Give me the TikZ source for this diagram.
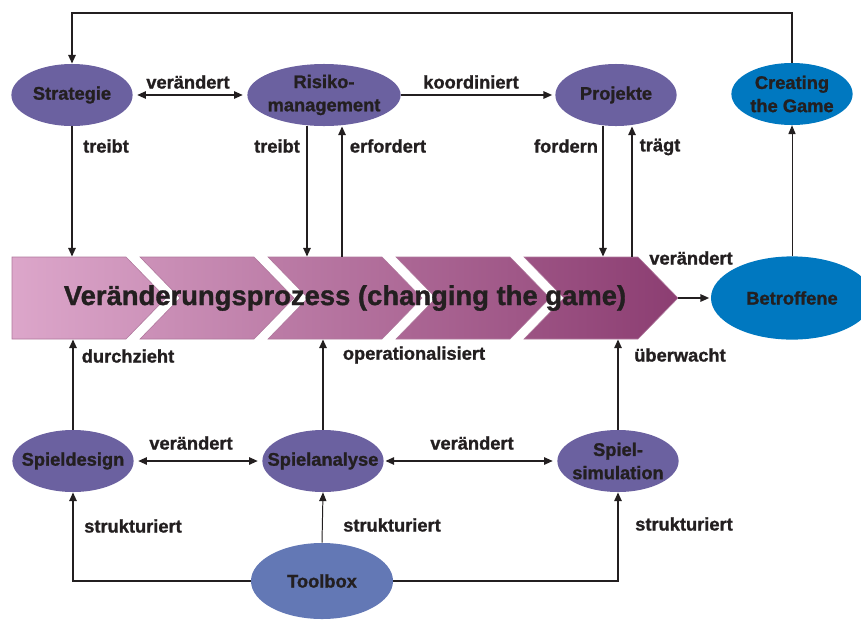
\documentclass[tikz,border=0pt]{standalone}
\usepackage{fontspec}
\setmainfont{Liberation Sans}[BoldFeatures={FakeBold=1.2}]
\usetikzlibrary{arrows.meta,shapes.geometric}

\definecolor{ovalviolet}{RGB}{107,97,160}
\definecolor{ovaltool}{RGB}{99,120,181}
\definecolor{ovalblue}{RGB}{0,120,192}
\definecolor{inkdark}{RGB}{35,31,32}
\definecolor{chevlight}{RGB}{220,166,202}
\definecolor{chevdark}{RGB}{140,62,114}

\tikzset{
  ovaltext/.style={align=center, font=\fontsize{13}{16.5}\selectfont\bfseries, text=inkdark, inner sep=0pt},
  oval/.style={ellipse, fill=ovalviolet, inner sep=0pt, minimum width=3.03cm, minimum height=1.55cm,
    label={[ovaltext]center:#1}},
  rel/.style={font=\fontsize{13}{15}\selectfont\bfseries, text=inkdark, inner sep=0pt},
  arr/.style={draw=inkdark, line width=1.4pt, -{Triangle[length=2.2mm,width=1.8mm]}},
  biarr/.style={arr, {Triangle[length=2.2mm,width=1.8mm]}-{Triangle[length=2.2mm,width=1.8mm]}},
  chev/.style={draw=chevdark!70!white, line width=0.4pt},
}

\begin{document}
\begin{tikzpicture}[x=0.025cm, y=-0.025cm]
			%%%%% START %%%%%
			\useasboundingbox (0,0) rectangle (861,619);
			
			% process band
			\shade[chev, left color=chevlight, right color=chevdark!20!chevlight]
			  (12,257) -- (126,257) -- (166,298) -- (126,339) -- (12,339) -- cycle;
			\foreach \k in {1,...,4} {
			  \pgfmathsetmacro\xl{12+128*\k}
			  \pgfmathtruncatemacro\pa{20*\k}
			  \pgfmathtruncatemacro\pb{20*\k+20}
			  \shade[chev, left color=chevdark!\pa!chevlight, right color=chevdark!\pb!chevlight]
			    (\xl,257) -- ({\xl+114},257) -- ({\xl+154},298) -- ({\xl+114},339)
			    -- (\xl,339) -- ({\xl+40},298) -- cycle;
			}
			\node[font=\fontsize{19.5}{22}\selectfont\bfseries, text=inkdark, inner sep=0pt,
			  minimum width=16.65cm, minimum height=2.05cm] (proc) at (345,298)
			  {Veränderungsprozess (changing the game)};
			
			% ovals
			\node[oval={Strategie}] (strat) at (72,95) {};
			\node[oval={Risiko-\\management}, minimum width=3.83cm] (risk) at (324,95) {};
			\node[oval={Projekte}] (proj) at (616,95) {};
			\node[oval={Creating\\the Game}, fill=ovalblue] (create) at (792,94) {};
			\node[oval={Betroffene}, fill=ovalblue, minimum width=4.05cm, minimum height=2.08cm] (betr) at (792,298) {};
			\node[oval={Spieldesign}] (design) at (73,461) {};
			\node[oval={Spielanalyse}] (analyse) at (323,461) {};
			\node[oval={Spiel-\\simulation}] (simul) at (618,461) {};
			\node[oval={Toolbox}, fill=ovaltool, minimum width=3.55cm, minimum height=1.9cm] (tool) at (322,581) {};
			
			% top row
			\coordinate (loop) at (792,13);
			\draw[arr] (create.north) -- (loop) -| (strat.north);
			\draw[biarr, shorten <=3pt, shorten >=3pt] (strat.east) -- (risk.west);
			\draw[arr, shorten >=2pt] (risk.east) -- (proj.west);
			\draw[arr] (strat.south) -- (strat.south |- proc.north);
			\draw[arr] ([xshift=-0.425cm]risk.south) -- ([xshift=-0.425cm]risk.south |- proc.north);
			\draw[arr] ([xshift=0.45cm]risk.south |- proc.north) -- ([xshift=0.45cm]risk.south);
			\draw[arr] ([xshift=-0.325cm]proj.south) -- ([xshift=-0.325cm]proj.south |- proc.north);
			\draw[arr] ([xshift=0.4cm]proj.south |- proc.north) -- ([xshift=0.4cm]proj.south);
			\draw[arr, line width=0.7pt] (betr.north) -- (create.south);
			\draw[arr, shorten >=1pt] (proc.east) -- (betr.west);
			
			% bottom row
			\draw[arr] (design.north) -- (design.north |- proc.south);
			\draw[arr] (analyse.north) -- (analyse.north |- proc.south);
			\draw[arr] (simul.north) -- (simul.north |- proc.south);
			\draw[biarr, shorten <=3pt, shorten >=3pt] (design.east) -- (analyse.west);
			\draw[biarr, shorten <=1pt, shorten >=3pt] (analyse.east) -- (simul.west);
			\draw[arr, line width=0.7pt] (tool.north) -- (analyse.south);
			\draw[arr] (tool.west) -| (design.south);
			\draw[arr] (tool.east) -| (simul.south);
			
			% labels
			\node[rel] (vStrat) at (188,82) {verändert};
			\node[rel] (kRisk) at (471,82) {koordiniert};
			\node[rel] (tStrat) at (106,146) {treibt};
			\node[rel] (tRisk) at (277,146) {treibt};
			\node[rel] (eRisk) at (388,146) {erfordert};
			\node[rel] (fProj) at (566,146) {fordern};
			\node[rel] (tProj) at (660,147) {trägt};
			\node[rel] (vBetr) at (691,258) {verändert};
			\node[rel] (dDesign) at (128,356) {durchzieht};
			\node[rel] (oAnalyse) at (414,355) {operationalisiert};
			\node[rel] (uSimul) at (680,355) {überwacht};
			\node[rel] (vDesign) at (191,443) {verändert};
			\node[rel] (vAnalyse) at (472,443) {verändert};
			\node[rel] (sDesign) at (133,526) {strukturiert};
			\node[rel] (sAnalyse) at (392,525) {strukturiert};
			\node[rel] (sSimul) at (684,524) {strukturiert};
			%%%%% END %%%%%
\end{tikzpicture}
\end{document}
